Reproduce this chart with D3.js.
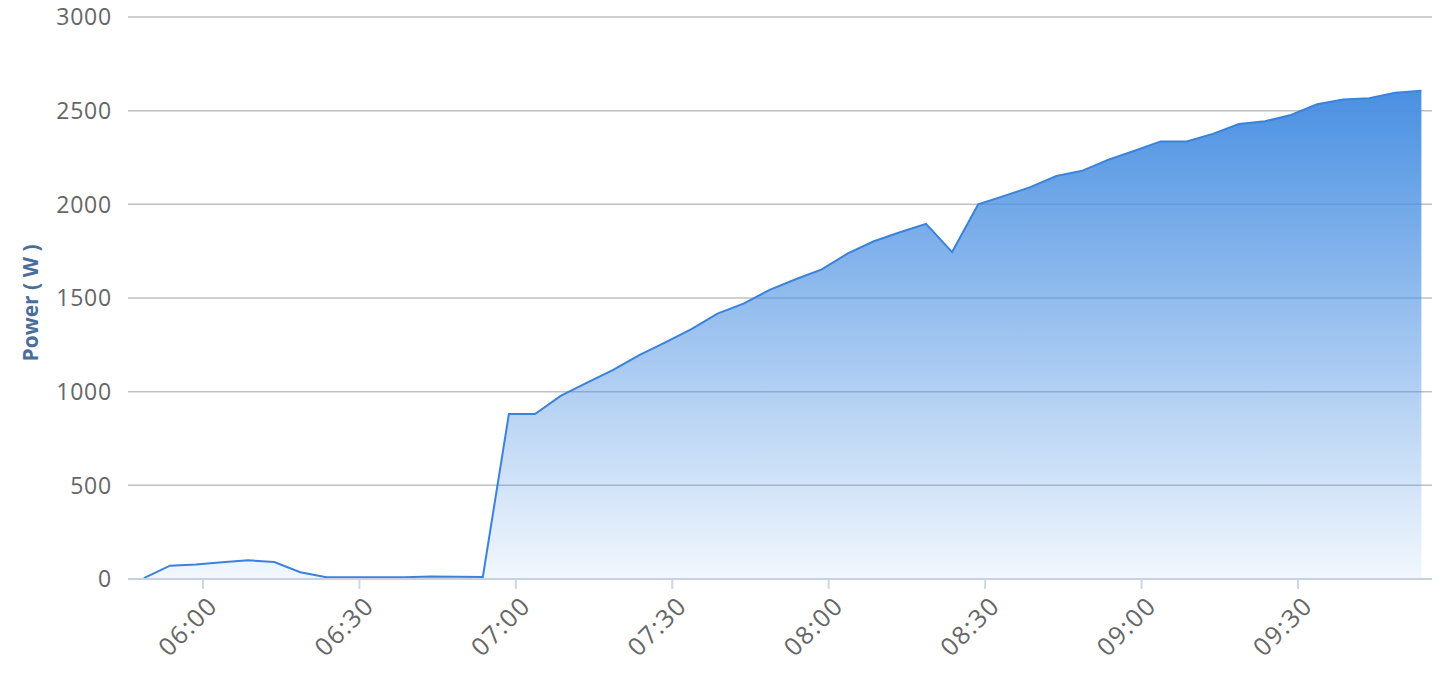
<!DOCTYPE html>
<html>
<head>
<meta charset="utf-8">
<script src="https://cdn.jsdelivr.net/npm/d3@7"></script>
<style>
  body { margin: 0; background: #fff; }
  text { font-family: "Open Sans", sans-serif; }
</style>
</head>
<body>
<div id="chart"></div>
<script>
// readings every 5 minutes starting 05:48:40
const startTime = "05:48:40";
const stepMinutes = 5;
const power = [5, 71, 77, 89, 100, 91, 36, 9, 10, 10, 10, 14, 12, 11,
    881, 881, 979, 1048, 1116, 1195, 1263, 1334, 1417, 1470,
    1543, 1600, 1653, 1738, 1803, 1851, 1896, 1745, 2000, 2045,
    2092, 2151, 2180, 2239, 2286, 2336, 2336, 2376, 2429, 2443,
    2477, 2534, 2560, 2566, 2596, 2607];
const yTicks = [0, 500, 1000, 1500, 2000, 2500, 3000];
const xTickLabels = ["06:00", "06:30", "07:00", "07:30", "08:00", "08:30", "09:00", "09:30"];
const xDomain = ["05:45:37", "09:55:42"];
const yTitle = "Power ( W )";

const parse = d3.timeParse("%H:%M:%S");
const t0 = parse(startTime);
const data = power.map((v, i) => ({t: d3.timeMinute.offset(t0, i * stepMinutes), v: v}));

const width = 1447, height = 682;
const m = {left: 128, right: 1432, top: 17, bottom: 579};

const svg = d3.select("#chart").append("svg")
    .attr("width", width)
    .attr("height", height);

const x = d3.scaleTime()
    .domain(xDomain.map(parse))
    .range([m.left, m.right]);
const y = d3.scaleLinear()
    .domain([0, 3000])
    .range([m.bottom, m.top]);

const grad = svg.append("defs").append("linearGradient")
    .attr("id", "fillGrad")
    .attr("x1", 0).attr("y1", 0).attr("x2", 0).attr("y2", 1);
grad.append("stop").attr("offset", "0%").attr("stop-color", "#4a90e2").attr("stop-opacity", 1);
grad.append("stop").attr("offset", "100%").attr("stop-color", "#4a90e2").attr("stop-opacity", 0.07);

// grid
svg.append("g")
    .selectAll("line")
    .data(yTicks)
    .join("line")
    .attr("x1", m.left).attr("x2", m.right)
    .attr("y1", d => y(d)).attr("y2", d => y(d))
    .attr("stroke", "#c0c0c0")
    .attr("stroke-width", 1.5);

// y labels
svg.append("g")
    .selectAll("text")
    .data(yTicks)
    .join("text")
    .attr("x", 112)
    .attr("y", d => y(d))
    .attr("dy", "0.36em")
    .attr("text-anchor", "end")
    .attr("font-size", 23)
    .attr("letter-spacing", 0.8)
    .attr("fill", "#666")
    .text(d => d);

svg.append("text")
    .attr("transform", "translate(38," + 303 + ") rotate(-90)")
    .attr("text-anchor", "middle")
    .attr("font-size", 21)
    .attr("font-weight", "bold")
    .attr("fill", "#4a6d9b")
    .text(yTitle);

const area = d3.area()
    .x(d => x(d.t))
    .y0(y(0))
    .y1(d => y(d.v));
const line = d3.line()
    .x(d => x(d.t))
    .y(d => y(d.v));

svg.append("path")
    .datum(data)
    .attr("d", area)
    .attr("fill", "url(#fillGrad)");
svg.append("path")
    .datum(data)
    .attr("d", line)
    .attr("fill", "none")
    .attr("stroke", "#3a82dc")
    .attr("stroke-width", 2);

// x axis
const ticks = xTickLabels.map(s => parse(s + ":00"));
svg.append("line")
    .attr("x1", m.left).attr("x2", m.right)
    .attr("y1", m.bottom).attr("y2", m.bottom)
    .attr("stroke", "#c4d2e4")
    .attr("stroke-width", 2);
svg.append("g")
    .selectAll("line")
    .data(ticks)
    .join("line")
    .attr("x1", d => x(d)).attr("x2", d => x(d))
    .attr("y1", m.bottom).attr("y2", m.bottom + 10)
    .attr("stroke", "#ccd6eb")
    .attr("stroke-width", 2);
svg.append("g")
    .selectAll("text")
    .data(ticks)
    .join("text")
    .attr("transform", d => "translate(" + (x(d) + 3) + "," + 594 + ") rotate(-45)")
    .attr("text-anchor", "end")
    .attr("dy", "0.75em")
    .attr("font-size", 25)
    .attr("letter-spacing", 1.5)
    .attr("fill", "#666")
    .text((d, i) => xTickLabels[i]);
</script>
</body>
</html>
